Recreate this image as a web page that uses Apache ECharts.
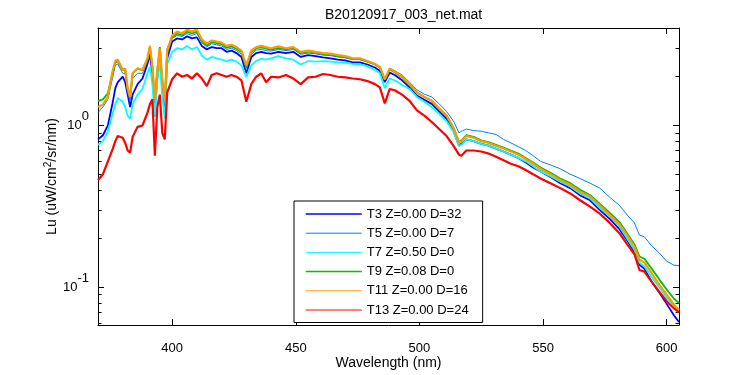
<!DOCTYPE html>
<html>
<head>
<meta charset="utf-8">
<script src="https://cdn.jsdelivr.net/npm/echarts@6/dist/echarts.min.js"></script>
<style>
html,body{margin:0;padding:0;background:#fff;}
#chart{width:750px;height:375px;}
</style>
</head>
<body>
<div id="chart"></div>
<script>
// ---- data ----
const titleText = 'B20120917_003_net.mat';
const xName = 'Wavelength (nm)';
const seriesNames = ['T3 Z=0.00 D=32','T5 Z=0.00 D=7','T7 Z=0.50 D=0','T9 Z=0.08 D=0','T11 Z=0.00 D=16','T13 Z=0.00 D=24'];
const xTicks = [400, 450, 500, 550, 600];
const yMajorTicks = [0.1, 1];
const yMinorTicks = [0.06,0.07,0.08,0.09,0.2,0.3,0.4,0.5,0.6,0.7,0.8,0.9,2,3,4];

const wl = [370,372,374,376,377,378,380,381,382,383,384,386,388,390,391,392,393,394,395,396,397,398,
  400,402,404,406,408,410,412,414,416,418,420,422,424,426,428,430,432,434,436,438,440,
  443,446,449,452,455,458,461,464,467,470,473,476,479,482,484,486,488,490,493,496,499,502,505,508,511,514,
  516,517,519,522,525,528,531,534,537,540,543,546,549,553,557,561,565,569,573,577,581,584,587,589,591,594,597,600,603,605];

const t3 = [0.82,0.87,1.0,1.4,1.7,1.85,2.0,1.85,1.55,1.3,1.55,1.8,1.95,2.4,2.75,2.1,1.27,2.0,2.7,1.7,1.28,2.6,
  3.3,3.45,3.4,3.55,3.45,3.5,3.1,2.95,3.05,3.0,3.0,2.85,2.9,2.8,2.65,2.1,2.65,2.8,2.85,2.8,2.78,
  2.85,2.8,2.85,2.65,2.72,2.68,2.63,2.6,2.55,2.52,2.45,2.45,2.38,2.28,2.18,1.85,2.12,2.05,1.9,1.72,1.53,1.44,1.36,1.22,1.1,0.91,
  0.75,0.77,0.82,0.8,0.77,0.75,0.72,0.69,0.66,0.63,0.59,0.55,0.52,0.48,0.44,0.41,0.37,0.345,0.3,0.265,0.228,0.195,0.165,0.138,0.13,0.108,0.093,0.079,0.067,0.061];

const t5 = [1.2,1.3,1.45,2.0,2.35,2.4,2.1,2.1,1.6,1.42,1.95,2.1,2.1,2.5,2.95,2.2,1.38,2.1,2.85,1.8,1.35,2.75,
  3.45,3.6,3.55,3.7,3.6,3.7,3.25,3.05,3.2,3.15,3.1,2.95,3.0,2.9,2.75,2.25,2.75,2.92,2.95,2.9,2.88,
  2.95,2.9,2.95,2.75,2.8,2.77,2.72,2.7,2.65,2.62,2.55,2.55,2.47,2.38,2.3,1.95,2.25,2.18,2.05,1.85,1.66,1.56,1.5,1.36,1.22,1.05,
  0.9,0.92,0.95,0.93,0.92,0.9,0.88,0.82,0.78,0.74,0.7,0.65,0.6,0.57,0.54,0.5,0.47,0.44,0.41,0.36,0.32,0.28,0.25,0.21,0.205,0.18,0.163,0.145,0.137,0.136];

const t7 = [0.76,0.8,0.92,1.2,1.35,1.48,1.4,1.3,1.15,1.1,1.35,1.55,1.68,2.1,2.3,1.8,1.13,1.9,2.5,1.5,1.1,2.4,
  2.85,3.0,2.95,3.1,2.95,3.05,2.7,2.55,2.65,2.6,2.55,2.5,2.55,2.48,2.35,1.99,2.35,2.5,2.58,2.55,2.6,
  2.68,2.6,2.55,2.38,2.5,2.48,2.5,2.48,2.45,2.44,2.4,2.38,2.32,2.2,2.1,1.7,1.95,1.9,1.78,1.68,1.5,1.4,1.3,1.18,1.06,0.9,
  0.75,0.76,0.82,0.8,0.77,0.75,0.72,0.69,0.66,0.63,0.6,0.56,0.52,0.485,0.45,0.42,0.38,0.355,0.31,0.275,0.237,0.2,0.17,0.142,0.135,0.115,0.1,0.086,0.077,0.073];

const t9 = [1.42,1.45,1.58,2.15,2.45,2.5,2.2,2.2,1.68,1.5,2.1,2.25,2.2,2.55,3.05,2.3,1.45,2.2,3.05,1.9,1.42,2.95,
  3.5,3.7,3.6,3.8,3.7,3.8,3.3,3.12,3.28,3.22,3.18,3.02,3.08,2.98,2.84,2.3,2.84,3.0,3.04,2.98,2.94,
  3.02,2.95,3.0,2.8,2.86,2.82,2.76,2.74,2.68,2.64,2.57,2.57,2.48,2.38,2.28,1.92,2.22,2.13,1.98,1.79,1.6,1.5,1.42,1.27,1.15,0.95,
  0.79,0.81,0.87,0.85,0.81,0.79,0.76,0.73,0.7,0.67,0.63,0.59,0.55,0.51,0.47,0.44,0.4,0.372,0.328,0.288,0.252,0.216,0.184,0.155,0.15,0.13,0.112,0.097,0.085,0.08];

const t11 = [1.3,1.35,1.5,2.2,2.5,2.55,2.2,2.25,1.7,1.5,2.1,2.25,2.2,2.6,3.1,2.3,1.45,2.2,3.0,1.9,1.4,2.9,
  3.6,3.8,3.7,3.9,3.8,3.9,3.4,3.2,3.35,3.3,3.25,3.1,3.15,3.05,2.9,2.35,2.9,3.05,3.1,3.05,3.0,
  3.08,3.0,3.05,2.85,2.9,2.85,2.8,2.78,2.72,2.68,2.6,2.6,2.5,2.4,2.3,1.93,2.25,2.15,2.0,1.8,1.6,1.5,1.42,1.27,1.15,0.95,
  0.78,0.8,0.86,0.84,0.8,0.78,0.75,0.72,0.69,0.66,0.62,0.58,0.54,0.5,0.46,0.43,0.39,0.365,0.32,0.28,0.245,0.21,0.178,0.148,0.142,0.122,0.104,0.09,0.078,0.072];

const t13 = [0.46,0.5,0.6,0.72,0.8,0.86,0.84,0.78,0.7,0.68,0.85,0.98,1.0,1.2,1.35,1.45,0.65,1.3,1.55,0.9,0.82,1.6,
  1.93,2.1,2.0,2.05,1.95,2.1,1.95,1.75,2.05,2.1,2.05,2.0,2.05,2.0,1.9,1.4,1.8,2.0,2.1,1.85,2.0,
  1.98,2.05,1.95,1.8,1.98,2.0,2.08,2.05,2.0,1.98,1.95,1.93,1.88,1.8,1.72,1.37,1.68,1.65,1.55,1.42,1.24,1.15,1.05,0.95,0.86,0.74,
  0.66,0.65,0.7,0.7,0.69,0.67,0.64,0.61,0.58,0.56,0.53,0.5,0.47,0.44,0.41,0.38,0.345,0.315,0.285,0.25,0.215,0.185,0.16,0.128,0.125,0.108,0.094,0.082,0.074,0.07];

const seriesValues = [t3, t5, t7, t9, t11, t13];
const seriesColors = ['#0000ff', '#0080ff', '#00ffff', '#00c000', '#ff9900', '#ff0000'];
const plotWidths = [1.8, 1, 1.8, 1.8, 2.2, 2.2];
const legendWidths = [1.5, 1, 1, 1.5, 1, 1];

// ---- chart ----
const FONT = '"Liberation Sans", Arial, Helvetica, sans-serif';
const chart = echarts.init(document.getElementById('chart'), null, {renderer: 'canvas'});
const black = '#000';

function yAxisBase(pos, major) {
  return {
    type: 'log', logBase: 10, min: 0.0585, max: 4, position: pos,
    axisLine: {show: major, lineStyle: {color: black, width: 1}},
    axisTick: {show: true, inside: true, length: major ? 6 : 3.5,
      customValues: major ? yMajorTicks : yMinorTicks, lineStyle: {color: black, width: 1}},
    axisLabel: {show: false},
    splitLine: {show: false}, minorTick: {show: false}, minorSplitLine: {show: false}
  };
}
const yLeft = yAxisBase('left', true);
yLeft.axisLabel = {
  show: true, customValues: yMajorTicks, margin: 9,
  formatter: v => '{b|10}{e|' + Math.round(Math.log10(v)) + '}',
  rich: {
    b: {fontSize: 13, color: black, fontFamily: FONT},
    e: {fontSize: 13, color: black, fontFamily: FONT, padding: [0, 0, 18, 0]}
  }
};
yLeft.name = '{a|Lu (uW/cm}{s|2}{a|/sr/nm)}';
yLeft.nameLocation = 'middle';
yLeft.nameGap = 36;
yLeft.nameMoveOverlap = false;
yLeft.nameTextStyle = {
  color: black, fontFamily: FONT,
  rich: {
    a: {fontSize: 14, color: black, fontFamily: FONT},
    s: {fontSize: 10, color: black, fontFamily: FONT, padding: [0, 0, 9, 0]}
  }
};

const option = {
  animation: false,
  backgroundColor: '#ffffff',
  textStyle: {fontFamily: FONT, color: black},
  title: {
    text: titleText, left: 325, top: 8, padding: 0,
    textStyle: {fontSize: 14, fontWeight: 'normal', color: black, fontFamily: FONT}
  },
  grid: {left: 98, right: 71, top: 28, bottom: 44, containLabel: false},
  xAxis: [
    {
      type: 'value', position: 'bottom', min: 370, max: 605,
      axisLine: {lineStyle: {color: black, width: 1}},
      axisTick: {inside: true, length: 6, customValues: xTicks, lineStyle: {color: black}},
      axisLabel: {customValues: xTicks, color: black, fontSize: 13, margin: 17, fontFamily: FONT},
      splitLine: {show: false},
      name: xName, nameLocation: 'middle', nameGap: 31, nameMoveOverlap: false,
      nameTextStyle: {fontSize: 14, color: black, fontFamily: FONT}
    },
    {
      type: 'value', position: 'top', min: 370, max: 605,
      axisLine: {lineStyle: {color: black, width: 1}},
      axisTick: {inside: true, length: 6, customValues: xTicks, lineStyle: {color: black}},
      axisLabel: {show: false},
      splitLine: {show: false}
    }
  ],
  yAxis: [yLeft, yAxisBase('left', false), yAxisBase('right', true), yAxisBase('right', false)],
  legend: {
    orient: 'vertical', left: 294, top: 201,
    padding: [6.5, 14, 6, 11], itemGap: 6.2, itemWidth: 56, itemHeight: 14,
    borderColor: black, borderWidth: 1, backgroundColor: '#ffffff',
    selectedMode: false,
    itemStyle: {opacity: 0},
    textStyle: {fontSize: 13, color: black, fontFamily: FONT},
    data: seriesNames.map((n, i) => ({name: n, itemStyle: {opacity: 0}, lineStyle: {width: legendWidths[i], opacity: 1}}))
  },
  series: seriesNames.map((n, i) => ({
    name: n, type: 'line', xAxisIndex: 0, yAxisIndex: 0,
    data: wl.map((w, k) => [w, seriesValues[i][k]]),
    symbol: 'none', showSymbol: false, clip: true,
    lineStyle: {color: seriesColors[i], width: plotWidths[i]},
    itemStyle: {color: seriesColors[i]},
    emphasis: {disabled: true}
  }))
};
chart.setOption(option);
</script>
</body>
</html>
